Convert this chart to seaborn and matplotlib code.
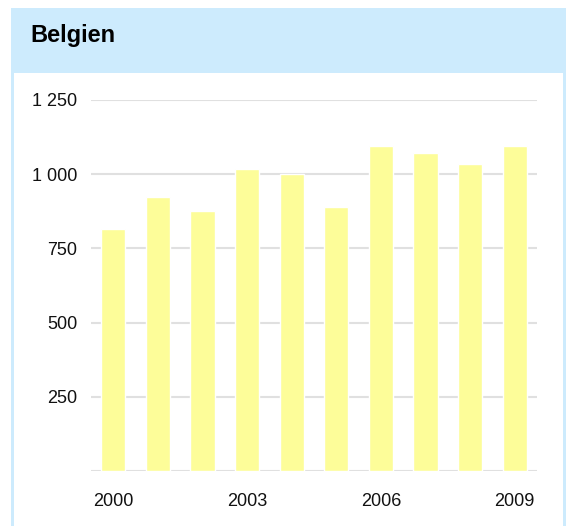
import matplotlib
matplotlib.use("Agg")
import matplotlib.pyplot as plt
from matplotlib.patches import Rectangle
import seaborn as sns
import pandas as pd

years = ["2000", "2001", "2002", "2003", "2004", "2005", "2006", "2007", "2008", "2009"]
values = [814, 922, 875, 1019, 1002, 888, 1095, 1070, 1033, 1095]
y_ticks = [0, 250, 500, 750, 1000, 1250]
y_tick_labels = ["", "250", "500", "750", "1 000", "1 250"]
x_tick_pos = [0, 3, 6, 9]
x_tick_labels = ["2000", "2003", "2006", "2009"]
title = "Belgien"

sns.set_theme(style="white")
plt.rcParams["font.family"] = ["Liberation Sans", "DejaVu Sans"]

W, H = 567, 526
fig = plt.figure(figsize=(W / 100, H / 100), dpi=100)
fig.patch.set_facecolor("white")

blue = "#cdebfd"
fig.patches.append(Rectangle((11 / W, 0), (566 - 11) / W, 1 - 8 / H,
                             transform=fig.transFigure, facecolor=blue,
                             edgecolor="none", zorder=-10))
fig.patches.append(Rectangle((14 / W, 0), (563 - 14) / W, 1 - 72.7 / H,
                             transform=fig.transFigure, facecolor="white",
                             edgecolor="none", zorder=-9))

ax = fig.add_axes([91 / W, 1 - 471 / H, (537 - 91) / W, (471 - 100) / H])
ax.set_facecolor("none")
ax.set_zorder(5)

df = pd.DataFrame({"year": years, "value": values})
sns.barplot(data=df, x="year", y="value", color="#fdfd99", saturation=1,
            width=0.54, ax=ax, zorder=3)

ax.set_xlim(-0.5, 9.5)
ax.set_ylim(0, 1250)
ax.set_yticks(y_ticks)
ax.set_yticklabels(y_tick_labels)
ax.set_xticks(x_tick_pos)
ax.set_xticklabels(x_tick_labels)
ax.set_xlabel("")
ax.set_ylabel("")
ax.tick_params(axis="both", length=0, labelsize=13, labelcolor="#111111")
ax.tick_params(axis="y", pad=10)
ax.tick_params(axis="x", pad=15.5)
ax.grid(axis="y", color="#e0e0e0", linewidth=1.5, zorder=0)
ax.grid(axis="x", visible=False)
ax.set_axisbelow(True)
for s in ax.spines.values():
    s.set_visible(False)

fig.text(30 / W, 1 - 41.7 / H, title, fontsize=17, fontweight="bold",
         ha="left", va="baseline", color="black", zorder=6)

fig.savefig("out.png", dpi=100)
